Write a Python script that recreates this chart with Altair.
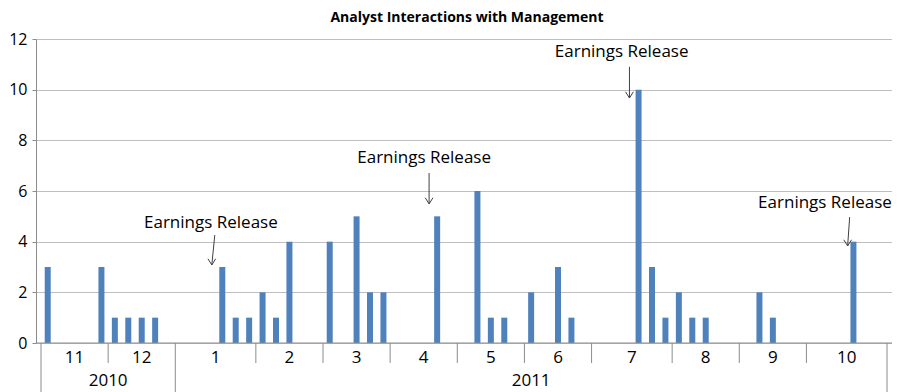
import altair as alt
import pandas as pd

# weekly slots (0..62) with interaction counts
slots = [0, 4, 5, 6, 7, 8, 13, 14, 15, 16, 17, 18, 21, 23, 24, 25, 29, 32, 33, 34,
         36, 38, 39, 44, 45, 46, 47, 48, 49, 53, 54, 60]
counts = [3, 3, 1, 1, 1, 1, 3, 1, 1, 2, 1, 4, 4, 5, 2, 2, 5, 6, 1, 1,
          2, 3, 1, 10, 3, 1, 2, 1, 1, 2, 1, 4]

months = ["11", "12", "1", "2", "3", "4", "5", "6", "7", "8", "9", "10"]
month_weeks = [5, 5, 6, 5, 5, 5, 5, 5, 6, 5, 5, 6]
years = ["2010", "2011"]
year_months = [2, 10]

# annotations: text position, arrow start, arrow tip (slot units, value units)
ann_text = ["Earnings Release"] * 4
ann_tx = [12.65, 28.53, 43.24, 58.38]
ann_ty = [4.74, 7.30, 11.49, 5.53]
ann_ax = [12.94, 28.9, 43.82, 60.22]
ann_ay = [4.26, 6.71, 10.9, 4.97]
ann_bx = [12.72, 28.9, 43.82, 60.07]
ann_by = [3.08, 5.49, 9.67, 3.83]

TOTAL = sum(month_weeks)
W, H = 856, 304
FONT = "Open Sans"
BLUE = "#4F81BD"
GRID = "#BFBFBF"
AXIS = "#8C8C8C"

bars_df = pd.DataFrame({"slot": slots, "count": counts})

# month boundaries / centers
bounds, centers = [0], []
for w in month_weeks:
    centers.append(bounds[-1] + w / 2)
    bounds.append(bounds[-1] + w)
month_df = pd.DataFrame({"m": months, "c": centers})

# year boundaries / centers
ybounds, ycenters = [0], []
mi = 0
for n in year_months:
    start = bounds[mi]
    end = bounds[mi + n]
    ycenters.append((start + end) / 2)
    ybounds.append(end)
    mi += n
year_df = pd.DataFrame({"y": years, "c": ycenters})

short_b = [b for b in bounds if b not in ybounds]
sep_short = pd.DataFrame({"b": short_b})
sep_long = pd.DataFrame({"b": ybounds})

ann_df = pd.DataFrame({"t": ann_text, "tx": ann_tx, "ty": ann_ty,
                       "ax": ann_ax, "ay": ann_ay, "bx": ann_bx, "by": ann_by})

xscale = alt.Scale(domain=[0, TOTAL], nice=False, zero=False)
yscale = alt.Scale(domain=[0, 12], nice=False)

bars = alt.Chart(bars_df).transform_calculate(
    xc="datum.slot + 0.5"
).mark_bar(size=6, color=BLUE).encode(
    x=alt.X("xc:Q", scale=xscale, axis=None),
    y=alt.Y("count:Q", scale=yscale, title=None,
            axis=alt.Axis(values=[0, 2, 4, 6, 8, 10, 12], grid=True, gridColor=GRID,
                          gridWidth=1, domainColor=AXIS, tickColor=AXIS, tickSize=4,
                          labelFont=FONT, labelFontSize=16, labelColor="black",
                          labelPadding=5)),
)

baseline = alt.Chart(pd.DataFrame({"v": [0]})).mark_rule(color=AXIS).encode(
    y=alt.Y("v:Q", scale=yscale), x=alt.value(0), x2=alt.value(W))

short_rules = alt.Chart(sep_short).mark_rule(color=AXIS).encode(
    x=alt.X("b:Q", scale=xscale), y=alt.value(H), y2=alt.value(H + 20))
long_rules = alt.Chart(sep_long).mark_rule(color=AXIS).encode(
    x=alt.X("b:Q", scale=xscale), y=alt.value(H), y2=alt.value(H + 49))

month_text = alt.Chart(month_df).mark_text(
    font=FONT, fontSize=17, color="black", baseline="middle").encode(
    x=alt.X("c:Q", scale=xscale), y=alt.value(H + 15), text="m:N")
year_text = alt.Chart(year_df).mark_text(
    font=FONT, fontSize=17, color="black", baseline="middle").encode(
    x=alt.X("c:Q", scale=xscale), y=alt.value(H + 38), text="y:N")

ann_label = alt.Chart(ann_df).mark_text(
    font=FONT, fontSize=17, color="black", baseline="middle").encode(
    x=alt.X("tx:Q", scale=xscale), y=alt.Y("ty:Q", scale=yscale), text="t:N")
ann_shaft = alt.Chart(ann_df).mark_rule(color="#404040", strokeWidth=1).encode(
    x=alt.X("ax:Q", scale=xscale), y=alt.Y("ay:Q", scale=yscale),
    x2="bx:Q", y2="by:Q")
ann_head = alt.Chart(ann_df).mark_point(
    shape="M -1 -1.6 L 0 0 L 1 -1.6", filled=False, color="#404040",
    strokeWidth=1, size=60, opacity=1).encode(
    x=alt.X("bx:Q", scale=xscale), y=alt.Y("by:Q", scale=yscale))

title = alt.Chart(pd.DataFrame({"t": ["Analyst Interactions with Management"]})).mark_text(
    font=FONT, fontSize=14, fontWeight="bold", color="black", baseline="top").encode(
    x=alt.value(W / 2 + 3), y=alt.value(-28), text="t:N")

chart = alt.layer(
    bars, baseline, short_rules, long_rules, month_text, year_text,
    ann_shaft, ann_head, ann_label, title
).properties(
    width=W, height=H,
    autosize=alt.AutoSizeParams(type="none"),
    padding={"left": 28, "top": 31, "right": 0, "bottom": 49},
).configure_view(stroke=None)

chart.save("out.html", embed_options={"renderer": "svg", "actions": False})
